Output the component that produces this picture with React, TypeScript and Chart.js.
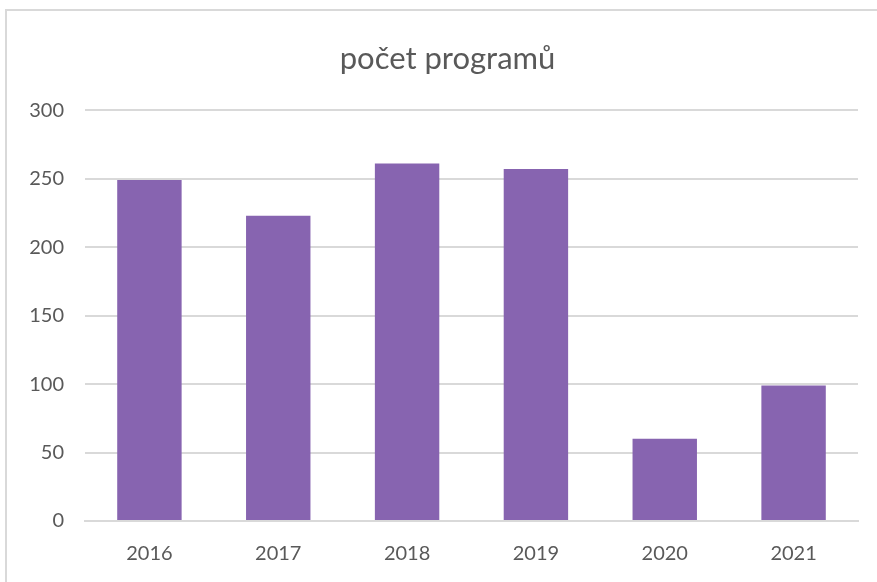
import React, { useEffect, useRef } from "react";
import { Chart, registerables } from "chart.js";

Chart.register(...registerables);

const TITLE = "počet programů";
const CATEGORIES = ["2016", "2017", "2018", "2019", "2020", "2021"];
const VALUES = [249, 223, 261, 257, 60, 99];
const Y_MIN = 0;
const Y_MAX = 300;
const Y_STEP = 50;

const FONT = "Lato, 'Open Sans', sans-serif";
const TEXT = "#595959";
const GRID = "#d9d9d9";
const BAR = "#8764b0";

export default function App() {
  const ref = useRef<HTMLCanvasElement | null>(null);

  useEffect(() => {
    if (!ref.current) return;
    const chart = new Chart(ref.current, {
      type: "bar",
      data: {
        labels: CATEGORIES,
        datasets: [
          {
            data: VALUES,
            backgroundColor: BAR,
            borderWidth: 0,
            barPercentage: 0.5,
            categoryPercentage: 1,
            yAxisID: "y",
          },
        ],
      },
      options: {
        animation: false,
        responsive: false,
        maintainAspectRatio: false,
        layout: { padding: { left: 18, right: 0, top: 40, bottom: 10 } },
        plugins: {
          legend: { display: false },
          tooltip: { enabled: false },
          title: {
            display: true,
            text: TITLE,
            color: TEXT,
            font: { family: FONT, size: 31, weight: "normal" },
            padding: { top: 0, bottom: 33 },
          },
        },
        scales: {
          x: {
            grid: { display: false, drawTicks: false },
            border: { display: true, color: GRID, width: 2 },
            ticks: {
              color: TEXT,
              font: { family: FONT, size: 20 },
              padding: 21,
            },
            afterFit: (s: any) => {
              s.height = 51;
            },
          },
          y: {
            min: Y_MIN,
            max: Y_MAX,
            grid: { color: GRID, lineWidth: 2, drawTicks: false },
            border: { display: false },
            ticks: {
              stepSize: Y_STEP,
              color: TEXT,
              font: { family: FONT, size: 20 },
              padding: 21,
            },
            afterFit: (s: any) => {
              s.width = 67;
            },
          },
          yRight: {
            position: "right",
            min: 0,
            max: 1,
            grid: { display: false, drawTicks: false },
            border: { display: false },
            ticks: { display: false },
            afterFit: (s: any) => {
              s.width = 19;
            },
          },
        },
      },
    });
    return () => chart.destroy();
  }, []);

  return (
    <div
      style={{
        position: "fixed",
        left: 0,
        top: 0,
        width: 877,
        height: 582,
        overflow: "hidden",
        background: "#fff",
      }}
    >
      <div
        style={{
          position: "absolute",
          left: 5,
          top: 9,
          width: 1000,
          height: 1000,
          borderTop: "2px solid " + GRID,
          borderLeft: "2px solid " + GRID,
        }}
      />
      <canvas
        ref={ref}
        width={877}
        height={582}
        style={{ position: "absolute", left: 0, top: 0, width: 877, height: 582 }}
      />
    </div>
  );
}
